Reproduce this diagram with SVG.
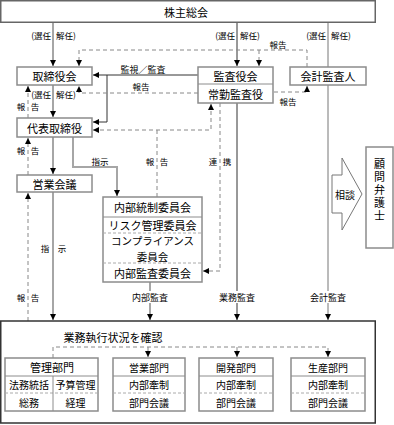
<svg xmlns="http://www.w3.org/2000/svg" width="394" height="425" viewBox="0 0 394 425">
<style>
text{font-family:"Noto Sans CJK JP","Noto Sans",sans-serif;fill:#000;text-anchor:middle;dominant-baseline:central}
.b{fill:#fff;stroke:#8c8c8c;stroke-width:1.5}
.t11{font-size:11px}
.t105{font-size:10.5px}
.t10{font-size:10px}
.s{font-size:8.5px}
.s9{font-size:9px}
.e{text-anchor:end}
.st{text-anchor:start}
.g{fill:none;stroke:#a6a6a6;stroke-width:2}
.d{fill:none;stroke:#333;stroke-width:1}
.m{fill:none;stroke:#777;stroke-width:1}
.ds{fill:none;stroke:#888;stroke-width:1;stroke-dasharray:4 3}
.sep{stroke:#8c8c8c;stroke-width:1}
.sepd{stroke:#aaa;stroke-width:1;stroke-dasharray:3 2}
.bg{fill:#fff}
.v{writing-mode:vertical-rl;letter-spacing:2px}
</style>
<defs>
<marker id="a" viewBox="0 0 6 6" refX="6" refY="3" markerWidth="6" markerHeight="6" markerUnits="userSpaceOnUse" orient="auto-start-reverse"><path d="M0,0L6,3L0,6z" fill="#000"/></marker>
</defs>

<g id="connectors">
  <path class="g" d="M53,22V66" marker-end="url(#a)"/>
  <path class="d" d="M237,22V66" marker-end="url(#a)"/>
  <path class="m" d="M328,22V67"/>
  <path class="ds" d="M307,67V50H79V66" marker-end="url(#a)"/>
  <path class="ds" d="M259,50V66" marker-end="url(#a)"/>
  <path class="d" d="M198,75H93" marker-end="url(#a)"/>
  <path class="d" d="M107,75V122H93" marker-end="url(#a)"/>
  <path class="ds" d="M198,93H79V86" marker-end="url(#a)"/>
  <path class="ds" d="M211,104V130H93" marker-start="url(#a)" marker-end="url(#a)"/>
  <path class="ds" d="M157,130V197"/>
  <path class="ds" d="M220,103V271H203" marker-end="url(#a)"/>
  <path class="ds" d="M274,92H307V86" marker-end="url(#a)"/>
  <path class="g" d="M53,85V117" marker-end="url(#a)"/>
  <path class="ds" d="M28,118V86" marker-end="url(#a)"/>
  <path class="g" d="M53,137V174" marker-end="url(#a)"/>
  <path class="ds" d="M28,175V138" marker-end="url(#a)"/>
  <path class="g" d="M73,137V167H117V196" marker-end="url(#a)"/>
  <path class="g" d="M53,192V320" marker-end="url(#a)"/>
  <path class="ds" d="M28,321V193" marker-end="url(#a)"/>
  <path class="g" d="M150,282V320" marker-end="url(#a)"/>
  <path class="d" d="M237,103V320" marker-end="url(#a)"/>
  <path class="m" d="M328,85V320" marker-end="url(#a)"/>
  <path class="ds" d="M53,358V347H328V357" marker-end="url(#a)"/>
  <path class="ds" d="M148,347V357" marker-end="url(#a)"/>
  <path class="ds" d="M237,347V357" marker-end="url(#a)"/>

  <text class="s e" x="51" y="35">(選任</text>
  <text class="s st" x="56" y="35">解任)</text>
  <text class="s e" x="235" y="35">(選任</text>
  <text class="s st" x="240" y="35">解任)</text>
  <text class="s e" x="326" y="35">(選任</text>
  <text class="s st" x="331" y="35">解任)</text>
  <text class="s" x="278" y="44">報告</text>
  <text class="s9" x="143" y="69">監視／監査</text>
  <text class="s" x="141" y="86">報告</text>
  <text class="s" x="288" y="101">報告</text>
  <text class="s e" x="51" y="94">(選任</text>
  <text class="s st" x="56" y="94">解任)</text>
  <text class="s" x="21" y="106">報</text>
  <text class="s" x="35" y="106">告</text>
  <text class="s" x="21" y="150">報</text>
  <text class="s" x="35" y="150">告</text>
  <text class="s" x="100" y="161">指示</text>
  <text class="s" x="150" y="161">報</text>
  <text class="s" x="164" y="161">告</text>
  <text class="s" x="213" y="161">連</text>
  <text class="s" x="227" y="161">携</text>
  <text class="s" x="45" y="248">指</text>
  <text class="s" x="62" y="248">示</text>
  <text class="s" x="21" y="297">報</text>
  <text class="s" x="35" y="297">告</text>
  <rect class="bg" x="131" y="291" width="38" height="12"/>
  <text class="s9" x="150" y="297">内部監査</text>
  <rect class="bg" x="218" y="291" width="38" height="12"/>
  <text class="s9" x="237" y="297">業務監査</text>
  <rect class="bg" x="309" y="291" width="38" height="12"/>
  <text class="s9" x="328" y="297">会計監査</text>
</g>

<g id="kabunushi">
  <rect x="0.75" y="0.75" width="374.5" height="21.5" fill="#fff" stroke="#666" stroke-width="1.5"/>
  <text class="t11" x="186" y="11.5">株主総会</text>
</g>
<g id="torishimariyakukai">
  <rect class="b" x="17" y="67" width="75" height="18"/>
  <text class="t11" x="54.5" y="76">取締役会</text>
</g>
<g id="kansayakukai">
  <rect class="b" x="198" y="67" width="75" height="36"/>
  <line class="sep" x1="198" y1="84" x2="273" y2="84"/>
  <text class="t11" x="235.5" y="75.5">監査役会</text>
  <text class="t11" x="235.5" y="93.5">常勤監査役</text>
</g>
<g id="kaikeikansanin">
  <rect class="b" x="290" y="67" width="76" height="18"/>
  <text class="t11" x="328" y="76">会計監査人</text>
</g>
<g id="daihyo">
  <rect class="b" x="17" y="118" width="75" height="19"/>
  <text class="t11" x="54.5" y="127.5">代表取締役</text>
</g>
<g id="eigyokaigi">
  <rect class="b" x="17" y="175" width="75" height="17"/>
  <text class="t11" x="54.5" y="183.5">営業会議</text>
</g>
<g id="naibutosei">
  <rect class="b" x="103" y="197" width="99" height="85"/>
  <line class="sep" x1="103" y1="217" x2="202" y2="217"/>
  <line class="sepd" x1="103" y1="233" x2="202" y2="233"/>
  <line class="sepd" x1="103" y1="263" x2="202" y2="263"/>
  <text class="t11" x="152.5" y="207">内部統制委員会</text>
  <text class="t11" x="152.5" y="225">リスク管理委員会</text>
  <text class="t105" x="152.5" y="240.5">コンプライアンス</text>
  <text class="t105" x="152.5" y="256">委員会</text>
  <text class="t11" x="152.5" y="272.5">内部監査委員会</text>
</g>
<g id="sodan">
  <polygon points="332,175 342,175 342,158 362,194 342,230 342,213 332,213" fill="#fff" stroke="#777" stroke-width="1"/>
  <text class="t10" x="345" y="194">相談</text>
</g>
<g id="komonbengoshi">
  <rect class="b" x="366" y="147" width="27" height="101"/>
  <text class="t11 v" x="379.5" y="191">顧問弁護士</text>
</g>
<g id="gyomu">
  <rect x="0.75" y="321" width="374.5" height="102" fill="none" stroke="#333" stroke-width="1.5"/>
  <text class="t11" x="113" y="337">業務執行状況を確認</text>
</g>
<g id="kanri">
  <rect class="b" x="5" y="358" width="93" height="53"/>
  <line class="sep" x1="5" y1="376" x2="98" y2="376"/>
  <line class="sepd" x1="5" y1="393" x2="98" y2="393"/>
  <line class="sep" x1="53" y1="376" x2="53" y2="411"/>
  <text class="t11" x="52" y="367">管理部門</text>
  <text class="t10" x="29" y="384.5">法務統括</text>
  <text class="t10" x="75.5" y="384.5">予算管理</text>
  <text class="t10" x="29" y="402">総務</text>
  <text class="t10" x="75.5" y="402">経理</text>
</g>
<g id="eigyo">
  <rect class="b" x="113" y="358" width="72" height="53"/>
  <line class="sep" x1="113" y1="376" x2="185" y2="376"/>
  <line class="sepd" x1="113" y1="393" x2="185" y2="393"/>
  <text class="t10" x="149" y="367">営業部門</text>
  <text class="t10" x="149" y="384.5">内部牽制</text>
  <text class="t10" x="149" y="402">部門会議</text>
</g>
<g id="kaihatsu">
  <rect class="b" x="199" y="358" width="74" height="53"/>
  <line class="sep" x1="199" y1="376" x2="273" y2="376"/>
  <line class="sepd" x1="199" y1="393" x2="273" y2="393"/>
  <text class="t10" x="236" y="367">開発部門</text>
  <text class="t10" x="236" y="384.5">内部牽制</text>
  <text class="t10" x="236" y="402">部門会議</text>
</g>
<g id="seisan">
  <rect class="b" x="291" y="358" width="74" height="53"/>
  <line class="sep" x1="291" y1="376" x2="365" y2="376"/>
  <line class="sepd" x1="291" y1="393" x2="365" y2="393"/>
  <text class="t10" x="328" y="367">生産部門</text>
  <text class="t10" x="328" y="384.5">内部牽制</text>
  <text class="t10" x="328" y="402">部門会議</text>
</g>
</svg>
